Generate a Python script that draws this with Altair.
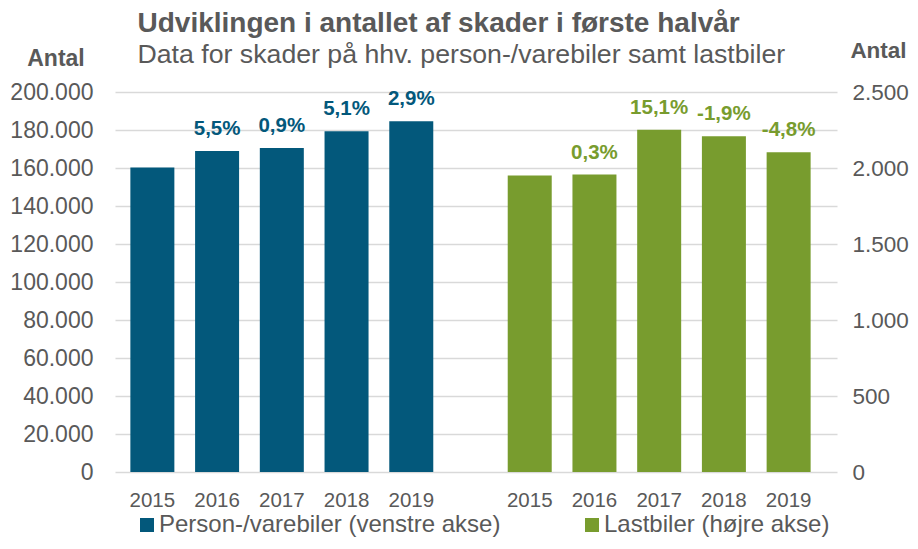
import altair as alt
import pandas as pd

# ---- data ----
years = ["2015", "2016", "2017", "2018", "2019"]
person_values = [160200, 169000, 170500, 179400, 184600]
person_labels = ["", "5,5%", "0,9%", "5,1%", "2,9%"]
lastbil_values = [1951, 1957, 2252, 2209, 2103]
lastbil_labels = ["", "0,3%", "15,1%", "-1,9%", "-4,8%"]
series_names = ["Person-/varebiler (venstre akse)", "Lastbiler (højre akse)"]
left_ticks = [0, 20000, 40000, 60000, 80000, 100000, 120000, 140000, 160000, 180000, 200000]
right_ticks = [0, 500, 1000, 1500, 2000, 2500]

# ---- styling ----
BLUE = "#03587B"
GREEN = "#789C2E"
GREY = "#595959"
GRID = "#D9D9D9"
FONT = "Liberation Sans, Arial, Helvetica, sans-serif"
W, H = 722, 380
GROUP_GAP = 1.83  # extra category slots between the two groups

slots_left = list(range(len(years)))
slots_right = [i + len(years) - 1 + GROUP_GAP for i in range(len(years))]

left_df = pd.DataFrame({"year": years, "slot": slots_left, "value": person_values,
                        "label": person_labels, "series": series_names[0]})
right_df = pd.DataFrame({"year": years, "slot": slots_right, "value": lastbil_values,
                         "label": lastbil_labels, "series": series_names[1]})
all_df = pd.concat([left_df, right_df], ignore_index=True)

X = alt.X("slot:Q", scale=alt.Scale(domain=[-0.5, 10.5], nice=False, zero=False), axis=None)
C = alt.Color("series:N",
              scale=alt.Scale(domain=series_names, range=[BLUE, GREEN]),
              legend=alt.Legend(orient="none", legendX=20, legendY=421, direction="horizontal",
                                title=None, symbolType="square", symbolSize=196,
                                symbolStrokeWidth=0, labelFontSize=24, labelColor=GREY,
                                labelFont=FONT, labelOffset=0, columnPadding=79, padding=0,
                                labelLimit=0))

fmt = "replace(format(datum.value, ','), regexp(',', 'g'), '.')"

left_axis = alt.Axis(values=left_ticks, labelExpr=fmt, grid=True, gridColor=GRID, gridWidth=1.5,
                     ticks=False, domain=False, labelPadding=22, labelFontSize=23,
                     labelOverlap=False, labelColor=GREY, labelFont=FONT, title="Antal",
                     titleAngle=0, titleX=-59.5, titleY=-26.3, titleAlign="center",
                     titleBaseline="alphabetic", titleFontSize=23, titleFontWeight="bold",
                     titleColor=GREY, titleFont=FONT, orient="left")
right_axis = alt.Axis(values=right_ticks, labelExpr=fmt, grid=False, ticks=False, domain=False,
                      labelPadding=15, labelFontSize=22.5, labelOverlap=False, labelColor=GREY,
                      labelFont=FONT, title="Antal", titleAngle=0, titleX=41, titleY=-35,
                      titleAlign="center", titleBaseline="alphabetic", titleFontSize=22.5,
                      titleFontWeight="bold", titleColor=GREY, titleFont=FONT, orient="right")

left_scale = alt.Scale(domain=[0, 200000], nice=False)
right_scale = alt.Scale(domain=[0, 2500], nice=False)

bars_l = alt.Chart(left_df).mark_bar(size=44).encode(
    x=X, y=alt.Y("value:Q", scale=left_scale, axis=left_axis), color=C)
text_l = alt.Chart(left_df).mark_text(dy=-16, baseline="alphabetic", fontSize=20.5,
                                      fontWeight="bold", color=BLUE, font=FONT).encode(
    x=X, y=alt.Y("value:Q", scale=left_scale, axis=left_axis), text="label:N")

bars_r = alt.Chart(right_df).mark_bar(size=44).encode(
    x=X, y=alt.Y("value:Q", scale=right_scale, axis=right_axis), color=C)
text_r = alt.Chart(right_df).mark_text(dy=-16, baseline="alphabetic", fontSize=20.5,
                                       fontWeight="bold", color=GREEN, font=FONT).encode(
    x=X, y=alt.Y("value:Q", scale=right_scale, axis=right_axis), text="label:N")

year_text = alt.Chart(all_df).mark_text(baseline="alphabetic", fontSize=20.5, color=GREY,
                                        font=FONT).encode(
    x=X, y=alt.value(H + 35), text="year:N")

chart = alt.layer(
    alt.layer(bars_l, text_l),
    alt.layer(bars_r, text_r),
    year_text,
).resolve_scale(y="independent").properties(
    width=W, height=H,
    padding={"left": 107, "top": 84, "right": 73, "bottom": 66},
    autosize=alt.AutoSizeParams(type="none"),
    title=alt.TitleParams(
        text="Udviklingen i antallet af skader i første halvår",
        subtitle="Data for skader på hhv. person-/varebiler samt lastbiler",
        anchor="start", frame="group", dx=22.5, offset=-30,
        fontSize=28, fontWeight="bold", color=GREY, font=FONT,
        subtitleFontSize=26.7, subtitleColor=GREY, subtitleFont=FONT, subtitlePadding=4),
).configure_view(stroke=None)

chart.save("out.html", embed_options={"renderer": "svg", "actions": False})
